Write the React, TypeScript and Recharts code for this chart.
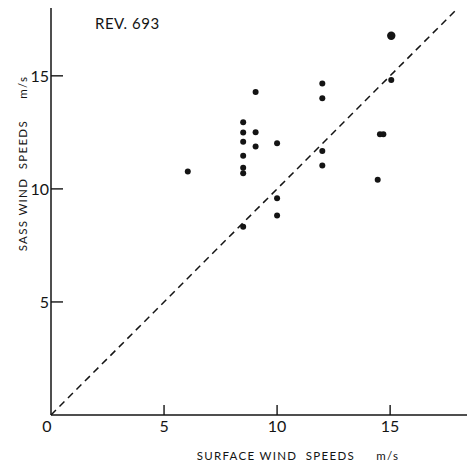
import { ScatterChart, Scatter, XAxis, YAxis, ReferenceLine, Label } from 'recharts'

// surface (x) vs SASS (y) wind speeds, m/s
const surfaceSpeeds = [6.05, 8.5, 8.5, 8.5, 8.5, 8.5, 8.5, 8.5, 9.05, 9.05, 9.05, 10.0, 10.0, 10.0, 12.0, 12.0, 12.0, 12.0, 14.45, 14.55, 14.7, 15.05]
const sassSpeeds = [10.77, 12.95, 12.49, 12.09, 11.47, 10.94, 10.69, 8.33, 14.29, 12.51, 11.87, 12.02, 9.59, 8.82, 14.66, 14.01, 11.68, 11.03, 10.4, 12.42, 12.42, 14.82]
// the heavier dot in the top right
const peakSurface = [15.05]
const peakSass = [16.77]

const xTicks = [0, 5, 10, 15]
const yTicks = [5, 10, 15]
const lineEnd = 18

const points = surfaceSpeeds.map((x, i) => ({ x, y: sassSpeeds[i] }))
const peak = peakSurface.map((x, i) => ({ x, y: peakSass[i] }))

const ink = '#141414'
const font = 'Lato, "DejaVu Sans", sans-serif'

function XTick({ x, y, payload }: any) {
  const axisY = y - 6
  const v = payload.value
  return (
    <g>
      {v !== 0 && <line x1={x} x2={x} y1={axisY} y2={axisY - 10} stroke={ink} strokeWidth={1.4} />}
      <text x={v === 0 ? x - 4 : x} y={y} dy="0.71em" textAnchor="middle" fontSize={16} fill={ink} fontFamily={font}>
        {v}
      </text>
    </g>
  )
}

function YTick({ x, y, payload }: any) {
  const axisX = x + 2
  return (
    <g>
      <line x1={axisX} x2={axisX + 12} y1={y} y2={y} stroke={ink} strokeWidth={1.4} />
      <text x={x} y={y} dy="0.36em" textAnchor="end" fontSize={16} fill={ink} fontFamily={font}>
        {payload.value}
      </text>
    </g>
  )
}

const dot = (r: number) => (props: any) => <circle cx={props.cx} cy={props.cy} r={r} fill={ink} />

export default function App() {
  return (
    <div style={{ position: 'absolute', left: 0, top: 0, width: 467, height: 464, background: '#fff', fontFamily: font }}>
      <div style={{ position: 'absolute', left: 95, top: 14, fontSize: 15, color: ink, letterSpacing: 0.5 }}>REV. 693</div>
      <ScatterChart width={467} height={464} margin={{ top: 8, right: 0, bottom: 0, left: 0 }}>
        <XAxis
          type="number"
          dataKey="x"
          domain={[0, 18.4]}
          ticks={xTicks}
          interval={0}
          height={49}
          tickSize={0}
          tickMargin={6}
          tickLine={false}
          tick={<XTick />}
          axisLine={{ stroke: ink, strokeWidth: 1.5 }}
        >
          <Label
            content={({ viewBox }: any) => (
              <text
                x={viewBox.x + viewBox.width / 2 + 39}
                y={viewBox.y + viewBox.height - 4}
                textAnchor="middle"
                fontSize={11.5}
                letterSpacing={1.3}
                fill={ink}
                fontFamily={font}
                style={{ whiteSpace: 'pre' }}
              >
                {'SURFACE WIND  SPEEDS     m/s'}
              </text>
            )}
          />
        </XAxis>
        <YAxis
          type="number"
          dataKey="y"
          domain={[0, 18]}
          ticks={yTicks}
          interval={0}
          width={51}
          tickSize={0}
          tickMargin={2}
          tickLine={false}
          tick={<YTick />}
          axisLine={{ stroke: ink, strokeWidth: 1.5 }}
        >
          <Label
            content={({ viewBox }: any) => {
              const cx = viewBox.x + 22
              const cy = viewBox.y + viewBox.height / 2 - 48
              return (
                <text
                  x={cx}
                  y={cy}
                  transform={`rotate(-90 ${cx} ${cy})`}
                  textAnchor="middle"
                  dominantBaseline="central"
                  fontSize={11.5}
                  letterSpacing={1.3}
                  fill={ink}
                  fontFamily={font}
                  style={{ whiteSpace: 'pre' }}
                >
                  {'SASS WIND  SPEEDS     m/s'}
                </text>
              )
            }}
          />
        </YAxis>
        <ReferenceLine
          segment={[{ x: 0, y: 0 }, { x: lineEnd, y: lineEnd }]}
          stroke={ink}
          strokeWidth={1.5}
          strokeDasharray="7 5"
        />
        <Scatter data={points} shape={dot(3)} isAnimationActive={false} />
        <Scatter data={peak} shape={dot(4.2)} isAnimationActive={false} />
      </ScatterChart>
    </div>
  )
}
